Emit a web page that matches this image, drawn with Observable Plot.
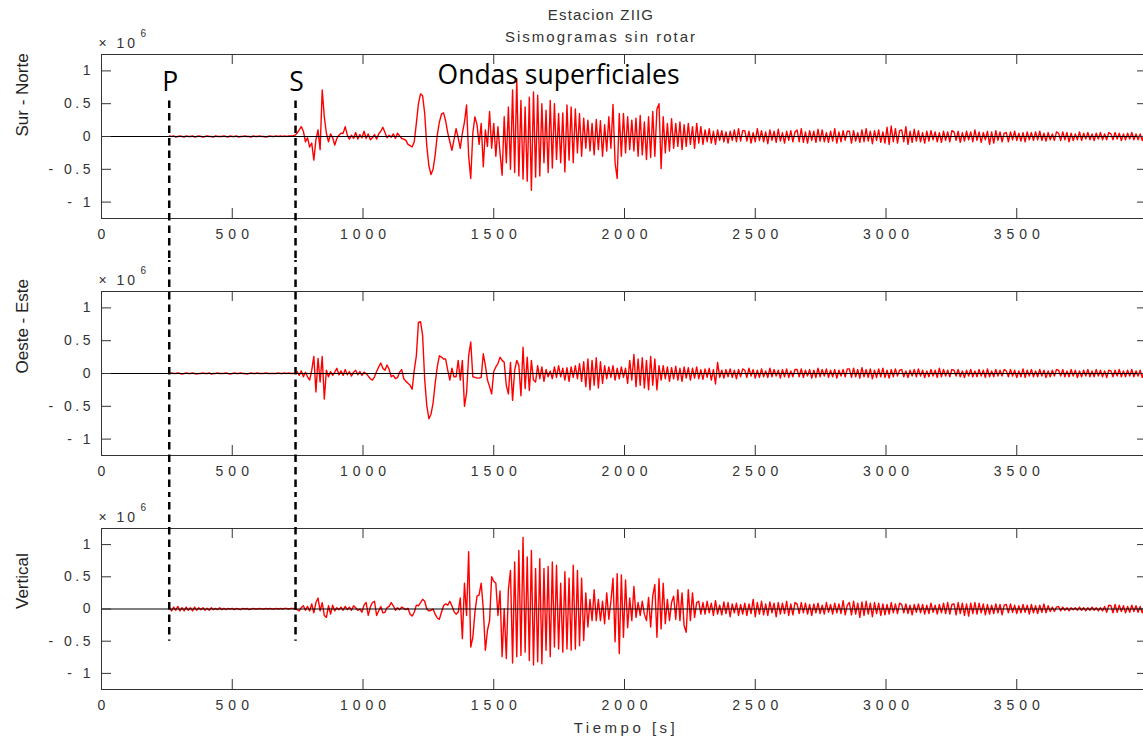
<!DOCTYPE html>
<html>
<head>
<meta charset="utf-8">
<script src="https://cdn.jsdelivr.net/npm/d3@7"></script>
<script src="https://cdn.jsdelivr.net/npm/@observablehq/plot@0.6"></script>
<style>
  html, body { margin: 0; padding: 0; overflow: hidden; background: #fff; }
  #fig { position: relative; width: 1143px; height: 744px; overflow: hidden;
         font-family: "Liberation Sans", Arial, sans-serif; }
  #fig svg { position: absolute; left: 0; max-width: none; }
  .titulo { position: absolute; left: 0; width: 1202px; text-align: center; color: #333;
            font-size: 15px; line-height: 15px; white-space: nowrap; }
  #fig g[aria-label="x-axis tick label"] text { letter-spacing: 5px; }
  #fig g[aria-label="y-axis tick label"] text { letter-spacing: 3.5px; }
</style>
</head>
<body>
<div id="fig">
  <div class="titulo" style="top:7px; letter-spacing:1.2px">Estacion ZIIG</div>
  <div class="titulo" style="top:29px; letter-spacing:2px">Sismogramas sin rotar</div>
</div>
<script>
// Graduaciones de los ejes
const ejeTiempo = [0, 500, 1000, 1500, 2000, 2500, 3000, 3500];
const ejeAmplitud = [-1, -0.5, 0, 0.5, 1];

// Nombres de las componentes
const componentes = ["Sur - Norte", "Oeste - Este", "Vertical"];

// Llegadas de las fases P y S (s)
const llegadaP = 259;
const llegadaS = 742;

// Muestreo de las trazas: primera muestra y paso (s)
const inicio = 260;
const paso = 8;

// Amplitudes en unidades de 10^4 (el eje se rotula en 10^6)
const surNorte = [
  1,0,1,-1,0, 1,0,-1,1,0, 0,1,-1,0,1, 0,-1,0,1,0, 0,-1,1,0,0,
  0,1,0,-1,1, 0,0,1,-1,0, 0,1,0,0,-1, 1,0,0,1,0, 0,-1,0,1,0,
  0,1,0,1,0, 1,0,1,1,1, 2,5,10,15,8, -8,-2,-16,-10,-36, -5,10,-20,71,30,
  5,-8,4,-2,-13, -3,2,5,5,15, 2,-4,2,-3,6, -4,3,-2,8,-3, 4,-5,-2,3,-4,
  4,8,14,6,-2, 2,-1,4,-3,5, 1,-3,-4,-6,-12, -14,-16,-8,20,50, 65,62,35,-15,-45,
  -58,-50,-28,2,22, 34,36,24,6,-8, -21,-5,12,-2,-18, 5,22,48,-30,-64, 5,30,18,-12,20,
  -46,10,-15,38,-18, 20,-30,15,-25,-59, 30,-40,45,-50,71, -55,88,-60,55,-65, 45,-68,60,-82,68,
  -62,63,-60,50,-40, 40,-55,55,-48,50, -35,35,-40,36,-54, 48,-36,45,-40,42, -25,35,-30,28,-18,
  25,-22,20,-28,26, -20,24,-30,18,-22, 30,-18,49,-40,-64, 35,-30,35,-25,30, -20,25,-22,28,-30,
  32,-28,22,-35,30, -32,38,-30,42,50, -49,30,-25,20,-22, 27,-18,20,-15,22, -20,18,-15,20,-12,
  15,-18,20,-10,15, -12,10,-8,12,-10, 8,-12,10,-6,9, -8,7,-10,8,-6, 10,-8,12,-7,9,
  9,-7,8,-10,6, -8,12,-6,9,-8, 7,-11,10,-6,8, -9,11,-7,6,-10, 8,-6,9,-8,7,
  10,-8,12,-9,7, -10,9,-6,8,-9, 11,-7,10,-8,6, -9,8,-7,12,-10, 7,-8,9,-6,8,
  8,-10,9,-7,6, -9,10,-8,12,-7, 8,-11,9,-6,10, -9,7,-10,14,-12, 16,-8,12,-10,9,
  10,-8,15,-12,8, -9,11,-7,9,-8, 6,-10,8,-7,9, -5,7,-8,6,-9, 8,-6,7,-8,9,
  7,-6,8,-9,6, -7,8,-5,7,-8, 10,-6,7,-9,6, -5,8,-12,7,-10, 9,-6,7,-8,5,
  6,-8,7,-5,8, -6,5,-7,6,-8, 7,-5,6,-6,7, -5,8,-6,5,-7, 6,-5,4,-6,7,
  5,-6,7,-5,6, -8,5,-6,4,-5, 7,-6,5,-4,6, -5,4,-6,5,-4, 6,-5,4,-5,6,
  4,-5,6,-4,5, -6,4,-5,5,-4, 6,-5,4,-5,4, -6,5,-4,5,-4, 6,-5,4,-5,4
];

const oesteEste = [
  0,1,0,0,1, 0,-1,0,1,0, 0,1,0,-1,0, 0,1,0,0,1, -1,0,0,1,0,
  0,0,1,0,-1, 0,1,0,0,1, 0,0,-1,0,1, 0,0,1,0,0, 0,1,0,0,0,
  0,0,1,0,0, 1,0,1,0,0, 1,3,-3,4,-5, 2,-5,-10,5,26, -28,23,-13,26,-39,
  5,-5,3,-3,2, 8,-2,4,-3,6, -2,3,-4,2,5, -2,3,-3,2,0, -4,-8,-10,-5,3,
  10,16,8,5,13, 6,-5,-3,-8,-6, 2,6,-8,-12,-15, -18,-24,5,27,78, 79,58,-10,-49,-69,
  -62,-45,-15,10,27, 25,22,22,5,-10, 8,-5,-5,20,-10, 20,-50,-30,27,48, -5,-6,-7,-7,-6,
  30,12,-10,-20,-31, 3,10,15,25,20, 17,-18,-31,17,-41, 5,20,12,-34,40, -23,25,-26,20,-10,
  -13,12,-8,10,-12, 6,-5,4,-8,10, -6,12,-5,8,-10, 9,-12,10,-6,12, -8,15,-12,18,-20,
  22,-25,20,-18,24, -22,18,-15,12,-8, 10,-6,12,-10,8, -8,10,-6,8,-15, 20,-10,29,-20,22,
  -18,24,-22,20,-25, 26,-18,22,-25,12, -10,12,-8,10,-12, 9,-8,11,-10,8, -12,10,-7,9,-10,
  8,-7,10,-8,6, -9,7,-6,8,-10, 6,-16,17,-6,5, -7,6,-5,7,-6, 5,-8,6,-5,7,
  5,-6,8,-4,6, -7,5,-6,7,-5, 4,-6,8,-5,6, -4,5,-7,6,-5, 7,-6,4,-5,6,
  6,-5,7,-6,5, -4,6,-7,5,-6, 8,-5,6,-4,7, -6,5,-5,6,-7, 5,-4,6,-5,7,
  7,-6,8,-5,6, -7,9,-5,6,-6, 7,-8,5,-6,7, -5,8,-6,5,-7, 6,-5,7,-4,5,
  6,-5,4,-6,5, -4,6,-5,7,-4, 5,-6,4,-5,6, -4,5,-6,8,-5, 6,-4,5,-5,6,
  5,-4,6,-5,4, -6,5,-4,6,-5, 4,-5,6,-4,5, -6,7,-5,4,-5, 6,-4,5,-4,6,
  4,-5,6,-4,5, -6,4,-5,7,-6, 5,-4,6,-5,4, -5,6,-4,5,-6, 4,-5,5,-4,6,
  5,-4,6,-5,4, -5,6,-4,5,-6, 4,-5,5,-4,6, -5,4,-5,6,-4, 5,-5,4,-6,5,
  4,-5,5,-4,6, -5,4,-5,5,-4, 6,-5,4,-4,5, -6,4,-5,5,-4, 5,-5,4,-5,4
];

const vertical = [
  2,-3,3,-2,4, -3,2,-3,3,-2, 2,-3,3,-2,2, -1,2,-2,1,-2, 2,-1,1,-1,2,
  -1,1,-1,1,0, 1,-1,1,0,-1, 1,0,1,-1,0, 1,0,0,1,0, 0,1,0,1,0,
  0,1,0,1,0, 1,1,0,1,1, 0,-1,-3,2,5, -2,4,-3,8,-6, 10,17,-3,10,-10,
  -13,5,-8,6,-3, 2,-1,3,-2,4, -1,3,-2,5,2, -2,0,-5,6,10, -10,3,10,12,-10,
  -3,4,-6,-5,2, 4,10,5,-2,2, -1,3,1,-1,1, -8,-11,-5,6,5, 10,15,12,0,-3,
  -2,0,-8,-14,-16, -5,5,8,6,12, 5,-4,-8,-5,17, -46,40,-10,89,-59, -44,-5,20,22,40,
  0,-64,-33,-18,50, 43,40,-10,28,-74, 0,-77,30,60,-84, 73,-74,91,-72,111, -67,81,-80,91,-87,
  63,-82,78,-85,63, -64,66,-74,73,-59, 68,-62,40,-67,58, -62,48,-64,68,-62, 60,-57,48,-49,25,
  -28,15,-18,30,-18, 15,-18,12,-23,25, -16,12,48,-51,55, -69,53,-44,45,-29, 17,-18,35,-13,10,
  -10,12,-8,-18,18, -28,20,38,-44,47, -31,40,-23,15,-18, 10,20,-16,30,-18, 25,-26,-36,30,-18,
  25,-13,10,12,-8, 10,-8,12,-6,9, -10,13,-8,6,-9, 11,-7,10,-12,8, -6,9,-10,7,-8,
  9,-10,8,-7,15, -12,10,-8,12,-9, 8,-10,11,-6,9, -12,10,-8,9,-7, 12,-10,8,-9,10,
  8,-7,10,-6,9, -8,7,-10,8,-6, 9,-7,6,-8,10, -5,7,-8,9,-6, 8,-7,13,-9,6,
  10,-9,12,-8,9, -13,11,-10,12,-8, 9,-12,10,-7,9, -10,8,-9,7,-8, 10,-6,8,-7,9,
  7,-6,8,-7,6, -9,7,-5,8,-6, 7,-8,6,-7,9, -5,6,-8,7,-6, 9,-7,10,-8,7,
  8,-9,10,-7,9, -10,8,-11,9,-7, 10,-8,9,-6,8, -9,7,-8,6,-7, 8,-6,7,-9,6,
  7,-6,8,-5,6, -7,5,-6,7,-5, 6,-8,7,-6,5, -7,6,-5,8,-6, 5,-4,3,-4,3,
  4,-3,3,-2,2, -3,2,-1,2,-2, 3,-2,2,-3,2, -2,3,-2,2,-3, 2,-3,4,-5,6,
  5,-6,7,-5,6, -4,5,-6,4,-5, 6,-4,5,-5,4, -6,5,-4,5,-4, 6,-5,4,-5,4
];

const trazas = [surNorte, oesteEste, vertical];

// Geometría de cada panel: posición del SVG y márgenes del recuadro
const W = 1148, ML = 101, MR = 1;
const paneles = [
  {top: 0,   height: 260, marginTop: 54, marginBottom: 42, y1: 0.54, y2: -10},
  {top: 260, height: 237, marginTop: 31, marginBottom: 42, y1: 10,   y2: -10},
  {top: 497, height: 247, marginTop: 31, marginBottom: 55, y1: 10,   y2: -0.5}
];

const formatoX = d => String(d);
const formatoY = d => d < 0 ? "- " + Math.abs(d) : String(d);
const gris = "#333";
const fig = document.getElementById("fig");

// espaciado entre letras para algunos textos sueltos
const espaciado = {"× 10": "3px", "Tiempo [s]": "3.5px"};

paneles.forEach((p, k) => {
  const datos = trazas[k].map((v, i) => ({t: inicio + i * paso, a: v / 100}));
  const fw = W - ML - MR;
  const fh = p.height - p.marginTop - p.marginBottom;

  const marcas = [
    Plot.line(datos, {x: "t", y: "a", stroke: "#ff0000", strokeWidth: 1.4, clip: true}),
    Plot.ruleY([0], {stroke: "#000", strokeWidth: 1}),
    // graduaciones hacia el interior del recuadro, en los cuatro lados
    Plot.ruleX(ejeTiempo, {x: d => d, stroke: gris, insetTop: fh - 10}),
    Plot.ruleX(ejeTiempo, {x: d => d, stroke: gris, insetBottom: fh - 10}),
    Plot.ruleY(ejeAmplitud, {y: d => d, stroke: gris, insetRight: fw - 10}),
    Plot.ruleY(ejeAmplitud, {y: d => d, stroke: gris, insetLeft: fw - 10}),
    Plot.frame({stroke: gris}),
    Plot.axisX(ejeTiempo, {tickSize: 0, tickPadding: 11, fontSize: 14, dx: 2.5, tickFormat: formatoX, label: null}),
    Plot.axisY(ejeAmplitud, {tickSize: 0, tickPadding: 11, fontSize: 14, dx: 3.5, tickFormat: formatoY, label: null}),
    // llegadas P y S
    Plot.ruleX([llegadaP, llegadaS], {y1: p.y1, y2: p.y2, stroke: "#000", strokeWidth: 2.5, strokeDasharray: "7.5,5"}),
    // nombre de la componente
    Plot.text([componentes[k]], {frameAnchor: "left", rotate: -90, dx: -79, fontSize: 17, fill: "#222"}),
    // factor de escala
    Plot.text(["× 10"], {frameAnchor: "top-left", textAnchor: "start", lineAnchor: "bottom", dx: -3, dy: -7, fontSize: 14, fill: gris}),
    Plot.text(["6"], {frameAnchor: "top-left", textAnchor: "start", lineAnchor: "bottom", dx: 39, dy: -18, fontSize: 10, fill: gris})
  ];

  if (k === 0) {
    marcas.push(
      Plot.text(["P", "S"], {x: [llegadaP, llegadaS], frameAnchor: "top", lineAnchor: "bottom", dy: 36, dx: 1,
        fontFamily: "Open Sans", fontSize: 26.5, fill: "#000"}),
      Plot.text(["Ondas superficiales"], {x: [1285], frameAnchor: "top", lineAnchor: "bottom", textAnchor: "start", dy: 29,
        fontFamily: "Open Sans", fontSize: 26.5, fill: "#000"})
    );
  }
  if (k === 2) {
    marcas.push(
      Plot.text(["Tiempo [s]"], {frameAnchor: "bottom", lineAnchor: "bottom", dy: 43, dx: 1.5, fontSize: 15, fill: gris})
    );
  }

  const svg = Plot.plot({
    width: W,
    height: p.height,
    marginLeft: ML,
    marginRight: MR,
    marginTop: p.marginTop,
    marginBottom: p.marginBottom,
    x: {domain: [0, 4000]},
    y: {domain: [-1.25, 1.25]},
    style: {fontFamily: "'Liberation Sans', Arial, sans-serif", fontSize: "14px", color: gris,
            background: "transparent", maxWidth: "none", overflow: "hidden"},
    marks: marcas
  });
  svg.querySelectorAll("text").forEach(t => {
    const ls = espaciado[t.textContent];
    if (ls) t.style.letterSpacing = ls;
  });
  svg.style.top = p.top + "px";
  fig.appendChild(svg);
});
</script>
</body>
</html>
